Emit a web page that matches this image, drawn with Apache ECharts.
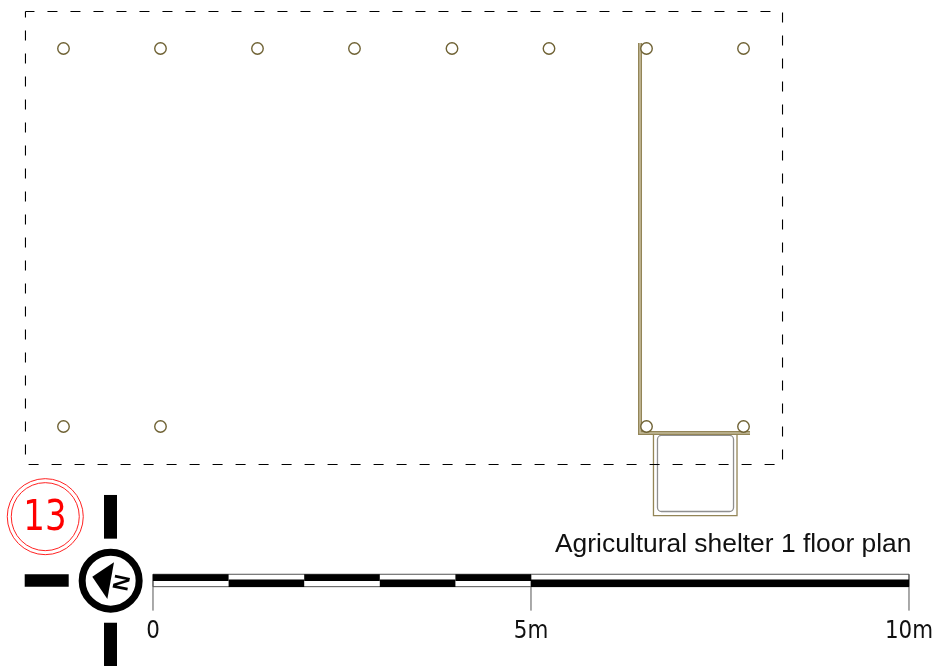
<!DOCTYPE html>
<html><head><meta charset="utf-8">
<style>html,body{margin:0;padding:0;background:#fff}#c{width:938px;height:668px}</style>
<script src="https://cdn.jsdelivr.net/npm/echarts@6/dist/echarts.min.js"></script>
</head><body><div id="c"></div>
<script>
// All plan values are in metres, measured from the scale bar's zero mark.
const columnXTop = [-1.184, 0.099, 1.382, 2.665, 3.955, 5.238, 6.528, 7.811];
const columnXBottom = [-1.184, 0.099, 6.528, 7.811];
const columnYTop = 7.044;
const columnYBottom = 2.044;
const boundary = [[-1.687,7.533],[8.327,7.533],[8.327,1.541],[-1.687,1.541],[-1.687,7.533]];
const wallLine = [[6.442,7.116],[6.442,1.958],[7.897,1.958]];
const porchOuter = [[6.620,1.958],[6.620,0.866],[7.725,0.866],[7.725,1.958]];
const porchInner = [6.673,7.679,1.925,0.919];
const scaleSegments = [[0,1,'top'],[1,2,'low'],[2,3,'top'],[3,4,'low'],[4,5,'top'],[5,10,'low']];
const scaleTicks = [0,5,10];
const scaleLabels = ['0','5m','10m'];
const scaleLabelY = -0.665;
const scaleBand = {top:[0.089,0.0],low:[0.020,-0.080]};
const tickBottom = -0.392;
const northBars = [[-0.648,-0.476,1.138,0.560],[-0.648,-0.476,-0.552,-1.124],[-1.697,-1.115,0.089,-0.075]];
const northCentre = [-0.560,0.004];
const northArrow = [[-0.803,0.057],[-0.516,0.247],[-0.604,-0.238]];
const northLetter = [-0.400,-0.025];
const sheetCentre = [-1.425,0.851];
const sheetLabelPos = [-1.429,0.827];
const sheetNumber = '13';
const titleText = 'Agricultural shelter 1 floor plan';
const tan = '#938557';

const line = (data,color,width,extra) => ({type:'line',data,showSymbol:false,symbol:'none',silent:true,
  lineStyle:Object.assign({color,width,cap:'butt',join:'miter'},extra||{}),z:(extra&&extra.zz)||2});
const custom = (data,renderItem,z) => ({type:'custom',data,renderItem,silent:true,z:z||3,clip:false});
const rectItem = (p,api)=>{
  const a=api.coord([api.value(0),api.value(2)]),b=api.coord([api.value(1),api.value(3)]);
  return {type:'rect',shape:{x:a[0],y:a[1],width:b[0]-a[0],height:b[1]-a[1]},style:{fill:'#000'}};
};
const textAt = (pos,text,size,sx,fill) => (p,api)=>{
  const c=api.coord(pos);
  return {type:'text',x:c[0],y:c[1],scaleX:sx,
    style:{text,x:0,y:0,align:'center',verticalAlign:'middle',fill,font:size+'px "DejaVu Sans"'}};
};

const chart = echarts.init(document.getElementById('c'),null,{renderer:'canvas'});
chart.setOption({
  animation:false,backgroundColor:'#fff',
  title:{text:titleText,left:555,top:532,padding:0,textStyle:{fontFamily:'Liberation Sans',fontSize:26.4,fontWeight:'normal',color:'#111'}},
  grid:{left:0,right:0,top:0,bottom:0},
  xAxis:{type:'value',min:-2.0238,max:10.3836,show:false},
  yAxis:{type:'value',min:-1.1508,max:7.685,show:false},
  tooltip:{show:false},
  series:[
    line(porchOuter,tan,1.3),
    custom([porchInner],(p,api)=>{
      const a=api.coord([api.value(0),api.value(2)]),b=api.coord([api.value(1),api.value(3)]);
      return {type:'rect',shape:{x:a[0],y:a[1],width:b[0]-a[0],height:b[1]-a[1],r:4},
        style:{fill:'none',stroke:'#8f8f8f',lineWidth:1.3}};
    }),
    line(wallLine,tan,4,{zz:4}),
    line(wallLine,'#c4bb9a',1.6,{zz:5}),
    line(boundary,'#000',1.1,{type:[10,13],dashOffset:1,zz:6}),
    {type:'scatter',data:columnXTop.map(x=>[x,columnYTop]).concat(columnXBottom.map(x=>[x,columnYBottom])),
      symbol:'circle',symbolSize:11.5,silent:true,z:7,
      itemStyle:{color:'#fff',borderColor:'#6f6234',borderWidth:1.4,opacity:1}},
    // scale bar
    custom(scaleSegments.map(s=>[s[0],s[1],scaleBand[s[2]][0],scaleBand[s[2]][1]]),rectItem,9),
    line([[0,0.089],[10,0.089],[10,-0.075],[0,-0.075],[0,0.089]],'#555',1,{zz:8}),
    ...scaleTicks.map(t=>line([[t,0.089],[t,tickBottom]],'#555',1,{zz:8})),
    ...scaleTicks.map((t,i)=>custom([0],textAt([t,scaleLabelY],scaleLabels[i],25.5,0.84,'#111'),10)),
    // north symbol
    custom(northBars,rectItem,9),
    {type:'scatter',data:[northCentre],symbol:'circle',symbolSize:57,silent:true,z:9,
      itemStyle:{color:'#fff',borderColor:'#000',borderWidth:7,opacity:1}},
    custom([0],(p,api)=>({type:'polygon',shape:{points:northArrow.map(q=>api.coord(q))},style:{fill:'#000'}}),10),
    custom([0],(p,api)=>{
      const c=api.coord(northLetter);
      return {type:'text',x:c[0],y:c[1],rotation:1.36,
        style:{text:'N',x:0,y:0,align:'center',verticalAlign:'middle',fill:'#000',
        font:'bold 22px "Liberation Sans"'}};
    },10),
    // sheet number
    {type:'scatter',data:[sheetCentre],symbol:'circle',symbolSize:76,silent:true,z:9,
      itemStyle:{color:'#fff',borderColor:'#f22',borderWidth:1,opacity:1}},
    {type:'scatter',data:[sheetCentre],symbol:'circle',symbolSize:68,silent:true,z:10,
      itemStyle:{color:'#fff',borderColor:'#f22',borderWidth:1,opacity:1}},
    custom([0],textAt(sheetLabelPos,sheetNumber,42.5,0.8,'#f00'),11)
  ]
});
</script></body></html>
